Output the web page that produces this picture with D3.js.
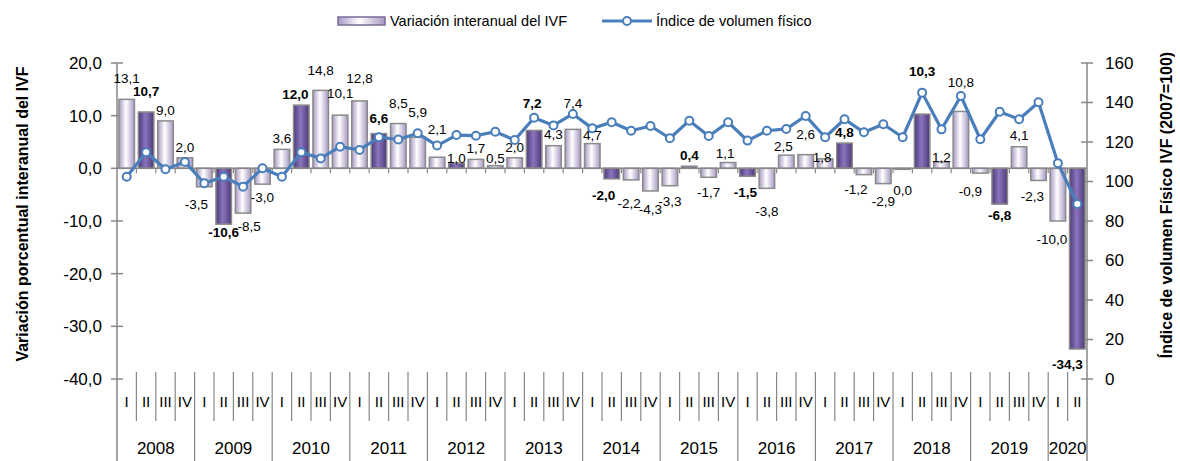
<!DOCTYPE html>
<html>
<head>
<meta charset="utf-8">
<script src="https://cdn.jsdelivr.net/npm/d3@7/dist/d3.min.js"></script>
<style>
  body { margin: 0; background: #fff; }
  svg { opacity: 0.999; }
  svg text { font-family: "Liberation Sans", Arial, sans-serif; fill: #000; }
</style>
</head>
<body>
<div id="chart"></div>
<script>
// años y trimestres (2008 I - 2020 II)
const anios = ["2008", "2009", "2010", "2011", "2012", "2013", "2014", "2015", "2016", "2017", "2018", "2019", "2020"];
const trimestres = ["I", "II", "III", "IV"];

// variación interanual del IVF (%)
const variacion = [
  13.1, 10.7, 9.0, 2.0,
  -3.5, -10.6, -8.5, -3.0,
  3.6, 12.0, 14.8, 10.1,
  12.8, 6.6, 8.5, 5.9,
  2.1, 1.0, 1.7, 0.5,
  2.0, 7.2, 4.3, 7.4,
  4.7, -2.0, -2.2, -4.3,
  -3.3, 0.4, -1.7, 1.1,
  -1.5, -3.8, 2.5, 2.6,
  1.8, 4.8, -1.2, -2.9,
  0.0, 10.3, 1.2, 10.8,
  -0.9, -6.8, 4.1, -2.3,
  -10.0, -34.3
];

// índice de volumen físico (2007=100)
const indice = [
  102.4, 114.8, 106.2, 109.9,
  99.1, 102.4, 97.4, 106.7,
  102.4, 114.8, 111.7, 117.6,
  116.0, 122.4, 121.3, 124.4,
  118.2, 123.5, 123.2, 125.2,
  121.0, 132.3, 128.4, 134.2,
  126.9, 130.0, 125.7, 128.1,
  121.9, 130.8, 123.0, 130.0,
  120.7, 125.7, 126.6, 133.2,
  122.4, 131.5, 124.9, 129.0,
  122.4, 145.0, 126.4, 143.3,
  121.4, 135.3, 131.5, 140.1,
  109.3, 88.6
];

// barras oscuras y etiquetas en negrita
const destacado = [
  0, 1, 0, 0,  0, 1, 0, 0,  0, 1, 0, 0,  0, 1, 0, 0,
  0, 1, 0, 0,  0, 1, 0, 0,  0, 1, 0, 0,  0, 1, 0, 0,
  1, 0, 0, 0,  0, 1, 0, 0,  0, 1, 0, 0,  0, 1, 0, 0,
  0, 1
];
const negrita = [
  0, 1, 0, 0,  0, 1, 0, 0,  0, 1, 0, 0,  0, 1, 0, 0,
  0, 0, 0, 0,  0, 1, 0, 0,  0, 1, 0, 0,  0, 1, 0, 0,
  1, 0, 0, 0,  0, 1, 0, 0,  0, 1, 0, 0,  0, 1, 0, 0,
  0, 1
];

const ticksIzq = [-40, -30, -20, -10, 0, 10, 20];
const ticksDer = [0, 20, 40, 60, 80, 100, 120, 140, 160];

// ajustes manuales de etiquetas (índice: [dx, dy]), como en el original
const ajusteEtiqueta = {
  0: [0, -10], 1: [0, -10], 4: [-8, 5], 5: [0, -5], 6: [6, 0], 9: [-6, 0],
  10: [0, -9], 11: [0, -11], 12: [0, -12], 13: [0, -4], 14: [0, -9], 15: [0, -14],
  16: [0, -17], 17: [0, 6], 19: [0, 4], 21: [-2, -16], 23: [0, -15], 24: [0, 3],
  25: [-8, 3], 26: [-2, 10], 27: [0, 5], 28: [0, 3], 30: [0, 2], 31: [-3, 2],
  32: [-2, 3], 33: [0, 10], 34: [-3, 2], 35: [0, -9], 36: [-3, 9], 38: [-8, 2],
  39: [0, 5], 40: [0, 9], 41: [0, -32], 42: [0, 6], 43: [0, -18], 44: [-10, 5],
  45: [0, -2], 47: [-6, 3], 48: [-6, 5], 49: [-10, 2]
};

const width = 1180, height = 461;
const plotLeft = 117, plotRight = 1087, plotTop = 63, plotBottom = 379;

const es = d3.formatLocale({ decimal: ",", thousands: ".", grouping: [3], currency: ["", ""], minus: "-" });
const fmt = es.format(".1f");

const svg = d3.select("#chart").append("svg")
  .attr("width", width)
  .attr("height", height);

const defs = svg.append("defs");
function gradiente(id, borde, centro) {
  const g = defs.append("linearGradient").attr("id", id)
    .attr("x1", "0%").attr("x2", "100%").attr("y1", "0%").attr("y2", "0%");
  g.append("stop").attr("offset", "0%").attr("stop-color", borde);
  g.append("stop").attr("offset", "45%").attr("stop-color", centro);
  g.append("stop").attr("offset", "100%").attr("stop-color", borde);
}
gradiente("claro", "#a898c4", "#ffffff");
gradiente("oscuro", "#4d3a78", "#8b74bd");

const n = variacion.length;
const x = d3.scaleBand()
  .domain(d3.range(n))
  .range([plotLeft, plotRight])
  .paddingInner(0.2)
  .paddingOuter(0.1);
const step = (plotRight - plotLeft) / n;

const yIzq = d3.scaleLinear().domain([-40, 20]).range([plotBottom, plotTop]);
const yDer = d3.scaleLinear().domain([0, 160]).range([plotBottom, plotTop]);

const gris = "#878787";

// ejes verticales
svg.append("line").attr("x1", plotLeft).attr("x2", plotLeft).attr("y1", plotTop).attr("y2", height)
  .attr("stroke", gris).attr("stroke-width", 1.5);
svg.append("line").attr("x1", plotRight).attr("x2", plotRight).attr("y1", plotTop).attr("y2", height)
  .attr("stroke", gris).attr("stroke-width", 1.5);

const gIzq = svg.append("g").selectAll("g").data(ticksIzq).join("g")
  .attr("transform", d => `translate(0,${yIzq(d)})`);
gIzq.append("line").attr("x1", plotLeft - 6).attr("x2", plotLeft + 6).attr("stroke", gris).attr("stroke-width", 1.5);
gIzq.append("text").attr("x", plotLeft - 15).attr("dy", "0.35em").attr("text-anchor", "end")
  .style("font-size", "17px").text(d => fmt(d));

const gDer = svg.append("g").selectAll("g").data(ticksDer).join("g")
  .attr("transform", d => `translate(0,${yDer(d)})`);
gDer.append("line").attr("x1", plotRight - 6).attr("x2", plotRight + 6).attr("stroke", gris).attr("stroke-width", 1.5);
gDer.append("text").attr("x", plotRight + 18).attr("dy", "0.35em").attr("text-anchor", "start")
  .style("font-size", "17px").text(d => d);

// barras
svg.append("g").selectAll("rect").data(variacion).join("rect")
  .attr("x", (d, i) => x(i))
  .attr("width", x.bandwidth())
  .attr("y", d => yIzq(Math.max(0, d)))
  .attr("height", d => Math.max(1, Math.abs(yIzq(d) - yIzq(0))))
  .attr("fill", (d, i) => destacado[i] ? "url(#oscuro)" : "url(#claro)")
  .attr("stroke", "#8a8a8a")
  .attr("stroke-width", 1.5);

// eje horizontal en cero
svg.append("line").attr("x1", plotLeft).attr("x2", plotRight).attr("y1", yIzq(0)).attr("y2", yIzq(0))
  .attr("stroke", gris).attr("stroke-width", 1.5);
svg.append("g").selectAll("line").data(d3.range(1, n)).join("line")
  .attr("x1", i => plotLeft + i * step).attr("x2", i => plotLeft + i * step)
  .attr("y1", yIzq(0)).attr("y2", yIzq(0) + 5)
  .attr("stroke", gris).attr("stroke-width", 1.2);

// línea del índice
const linea = d3.line()
  .x((d, i) => x(i) + x.bandwidth() / 2)
  .y(d => yDer(d));
svg.append("path").datum(indice)
  .attr("d", linea)
  .attr("fill", "none")
  .attr("stroke", "#4a7ebb")
  .attr("stroke-width", 3.2)
  .attr("stroke-linejoin", "round");
svg.append("g").selectAll("circle").data(indice).join("circle")
  .attr("cx", (d, i) => x(i) + x.bandwidth() / 2)
  .attr("cy", d => yDer(d))
  .attr("r", 4)
  .attr("fill", "#fff")
  .attr("stroke", "#4a7ebb")
  .attr("stroke-width", 2);

// etiquetas de las barras
const aj = i => ajusteEtiqueta[i] || [0, 0];
svg.append("g").selectAll("text").data(variacion).join("text")
  .attr("x", (d, i) => x(i) + x.bandwidth() / 2 + aj(i)[0])
  .attr("y", (d, i) => (d > 0 ? yIzq(d) - 11 : yIzq(d) + 13) + aj(i)[1])
  .attr("dy", "0.35em")
  .attr("text-anchor", "middle")
  .style("font-size", "13.5px")
  .style("font-weight", (d, i) => negrita[i] ? "bold" : "normal")
  .text(d => fmt(d));

// categorías: trimestres y años
const catTop = 372;
svg.append("g").selectAll("line").data(d3.range(1, n)).join("line")
  .attr("x1", i => plotLeft + i * step).attr("x2", i => plotLeft + i * step)
  .attr("y1", catTop)
  .attr("y2", i => i % 4 === 0 ? height : 421)
  .attr("stroke", gris).attr("stroke-width", 1.2);
svg.append("g").selectAll("text").data(d3.range(n)).join("text")
  .attr("x", i => x(i) + x.bandwidth() / 2)
  .attr("y", 402)
  .attr("dy", "0.35em")
  .attr("text-anchor", "middle")
  .style("font-size", "15px")
  .text(i => trimestres[i % 4]);
svg.append("g").selectAll("text").data(anios).join("text")
  .attr("x", (d, k) => {
    const a = plotLeft + k * 4 * step;
    const b = Math.min(plotRight, a + 4 * step);
    return (a + b) / 2;
  })
  .attr("y", 448)
  .attr("dy", "0.35em")
  .attr("text-anchor", "middle")
  .style("font-size", "17px")
  .text(d => d);

// títulos de ejes
svg.append("text")
  .attr("transform", "translate(22,214) rotate(-90)")
  .attr("text-anchor", "middle")
  .attr("dy", "0.35em")
  .style("font-size", "16px").style("font-weight", "bold")
  .text("Variación porcentual interanual del IVF");
svg.append("text")
  .attr("transform", "translate(1166,205) rotate(-90)")
  .attr("text-anchor", "middle")
  .attr("dy", "0.35em")
  .style("font-size", "16px").style("font-weight", "bold")
  .text("Índice de volumen Físico IVF (2007=100)");

// leyenda
const ley = svg.append("g");
ley.append("rect").attr("x", 338).attr("y", 17).attr("width", 47).attr("height", 8)
  .attr("fill", "url(#claro)").attr("stroke", "#7a6a98").attr("stroke-width", 1.5);
ley.append("text").attr("x", 390).attr("y", 21).attr("dy", "0.35em")
  .style("font-size", "14.5px").text("Variación interanual del IVF");
ley.append("line").attr("x1", 602).attr("x2", 652).attr("y1", 21).attr("y2", 21)
  .attr("stroke", "#4a7ebb").attr("stroke-width", 3.2);
ley.append("circle").attr("cx", 627).attr("cy", 21).attr("r", 4)
  .attr("fill", "#fff").attr("stroke", "#4a7ebb").attr("stroke-width", 2);
ley.append("text").attr("x", 656).attr("y", 21).attr("dy", "0.35em")
  .style("font-size", "14.5px").text("Índice de volumen físico");
</script>
</body>
</html>
